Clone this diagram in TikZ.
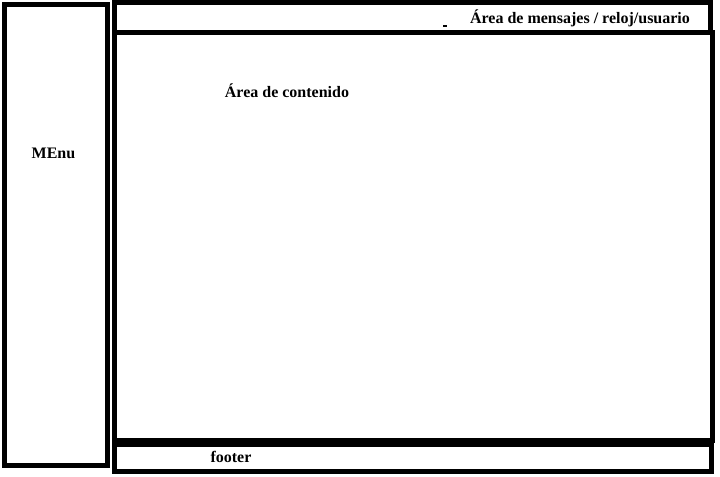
\documentclass[tikz,border=0pt]{standalone}
\usepackage{fontspec}
\setmainfont{Liberation Serif}
\usetikzlibrary{positioning}

\begin{document}
\begin{tikzpicture}[x=0.75pt, y=-0.75pt,
  frame/.style={line width=3.75pt, draw=black},
  lbl/.style={font=\fontsize{12}{14}\selectfont\bfseries, anchor=base, inner sep=0pt}]

\useasboundingbox (0,0) rectangle (720,476);

% Menu column
\draw[frame] (4.5,4.5) rectangle (107.5,465);
\node[lbl] (menu) at (53.5,158.5) {MEnu};

% Header bar
\draw[frame] (114.5,2.5) rectangle (710,32.5);
\node[lbl] (header) at (580,23.5) {Área de mensajes / reloj/usuario};
\draw[line width=0.9pt] (443,26) -- (447,26);

% Content area
\draw[frame] (114.5,32.5) rectangle (712.5,440.5);
\node[lbl] (content) at (287,97.5) {Área de contenido};

% Footer
\draw[frame] (114.5,444.5) rectangle (711.5,471);
\node[lbl] (footer) at (231,462) {footer};

\end{tikzpicture}
\end{document}
